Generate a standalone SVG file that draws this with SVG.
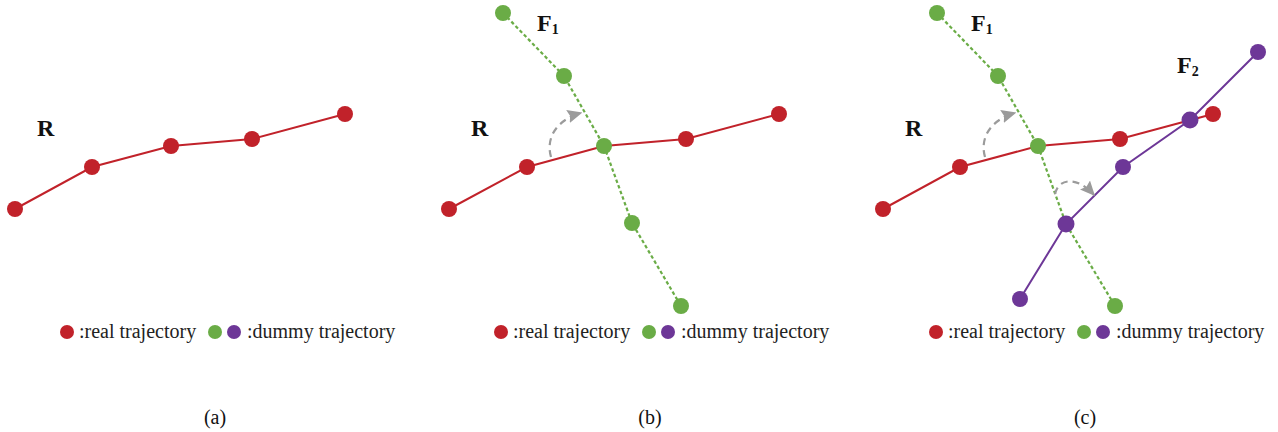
<svg xmlns="http://www.w3.org/2000/svg" width="1278" height="432" viewBox="0 0 1278 432">
<style>
.red{fill:#C1222A}
.grn{fill:#6AAC46}
.pur{fill:#6D3797}
.rl{fill:none;stroke:#C1222A;stroke-width:2}
.gl{fill:none;stroke:#6AAC46;stroke-width:2.2;stroke-dasharray:3.5 2.5}
.pl{fill:none;stroke:#6D3797;stroke-width:2}
.arc{fill:none;stroke:#9B9B9B;stroke-width:2.2;stroke-dasharray:7 5}
text{font-family:'Liberation Serif','Times New Roman',Tinos,'DejaVu Serif',serif}
.lbl{font-weight:bold;font-size:24px;fill:#111}
.sub{font-weight:bold;font-size:14px;fill:#111}
.leg{font-size:20px;fill:#222}
.cap{font-size:20px;fill:#111;text-anchor:middle}
</style>
<defs>
<marker id="ah2" viewBox="0 0 10 10" refX="9" refY="5" markerWidth="15" markerHeight="15" orient="auto" markerUnits="userSpaceOnUse">
<path d="M0,0.5 L10,5 L0,9.5 L1.5,5 z" fill="#9B9B9B"/>
</marker>
</defs>

<g id="connectors">
<polyline class="rl" points="15,209 92,167 171,146 252,139 345,114"/>
<polyline class="rl" points="449,209 527,167 604,146 686,139 779,114"/>
<polyline class="gl" points="503,13 564,76 604,146 632,223 681,306"/>
<path class="arc" d="M551,157 C545,136 559,119 581,113" marker-end="url(#ah2)"/>
<polyline class="rl" points="883,209 960,167 1038,146 1120,139 1213,114"/>
<polyline class="gl" points="937,13 998,76 1038,146 1066,224 1115,306"/>
<polyline class="pl" points="1020,299 1066,224 1123,167 1190,120 1258,52"/>
<path class="arc" d="M985,157 C979,136 993,119 1015,113" marker-end="url(#ah2)"/>
<path class="arc" d="M1055,194 C1058,179 1076,175 1094,195" marker-end="url(#ah2)"/>
</g>

<g id="panel-a">
<circle class="red" cx="15" cy="209" r="8"/>
<circle class="red" cx="92" cy="167" r="8"/>
<circle class="red" cx="171" cy="146" r="8"/>
<circle class="red" cx="252" cy="139" r="8"/>
<circle class="red" cx="345" cy="114" r="8"/>
<text class="lbl" x="37" y="136">R</text>
</g>

<g id="panel-b">
<circle class="red" cx="449" cy="209" r="8"/>
<circle class="red" cx="527" cy="167" r="8"/>
<circle class="red" cx="686" cy="139" r="8"/>
<circle class="red" cx="779" cy="114" r="8"/>
<circle class="grn" cx="503" cy="13" r="8"/>
<circle class="grn" cx="564" cy="76" r="8"/>
<circle class="grn" cx="604" cy="146" r="8"/>
<circle class="grn" cx="632" cy="223" r="8"/>
<circle class="grn" cx="681" cy="306" r="8"/>
<text class="lbl" x="471" y="136">R</text>
<text class="lbl" x="537" y="31">F<tspan class="sub" dy="3">1</tspan></text>
</g>

<g id="panel-c">
<circle class="red" cx="883" cy="209" r="8"/>
<circle class="red" cx="960" cy="167" r="8"/>
<circle class="red" cx="1120" cy="139" r="8"/>
<circle class="red" cx="1213" cy="114" r="8"/>
<circle class="grn" cx="937" cy="13" r="8"/>
<circle class="grn" cx="998" cy="76" r="8"/>
<circle class="grn" cx="1038" cy="146" r="8"/>
<circle class="grn" cx="1115" cy="306" r="8"/>
<circle class="pur" cx="1020" cy="299" r="8"/>
<circle class="pur" cx="1066" cy="224" r="8.5"/>
<circle class="pur" cx="1123" cy="167" r="8"/>
<circle class="pur" cx="1190" cy="120" r="8.5"/>
<circle class="pur" cx="1258" cy="52" r="8"/>
<text class="lbl" x="905" y="136">R</text>
<text class="lbl" x="971" y="31">F<tspan class="sub" dy="3">1</tspan></text>
<text class="lbl" x="1177" y="73">F<tspan class="sub" dy="3">2</tspan></text>
</g>

<g id="legend-a">
<circle class="red" cx="67" cy="332" r="7"/>
<text class="leg" x="79" y="338">:real trajectory</text>
<circle class="grn" cx="215" cy="332" r="7"/>
<circle class="pur" cx="234" cy="332" r="7"/>
<text class="leg" x="247" y="338">:dummy trajectory</text>
<text class="cap" x="215" y="424">(a)</text>
</g>

<g id="legend-b">
<circle class="red" cx="501" cy="332" r="7"/>
<text class="leg" x="513" y="338">:real trajectory</text>
<circle class="grn" cx="649" cy="332" r="7"/>
<circle class="pur" cx="668" cy="332" r="7"/>
<text class="leg" x="681" y="338">:dummy trajectory</text>
<text class="cap" x="650" y="424">(b)</text>
</g>

<g id="legend-c">
<circle class="red" cx="936" cy="332" r="7"/>
<text class="leg" x="948" y="338">:real trajectory</text>
<circle class="grn" cx="1084" cy="332" r="7"/>
<circle class="pur" cx="1103" cy="332" r="7"/>
<text class="leg" x="1116" y="338">:dummy trajectory</text>
<text class="cap" x="1085" y="424">(c)</text>
</g>
</svg>
